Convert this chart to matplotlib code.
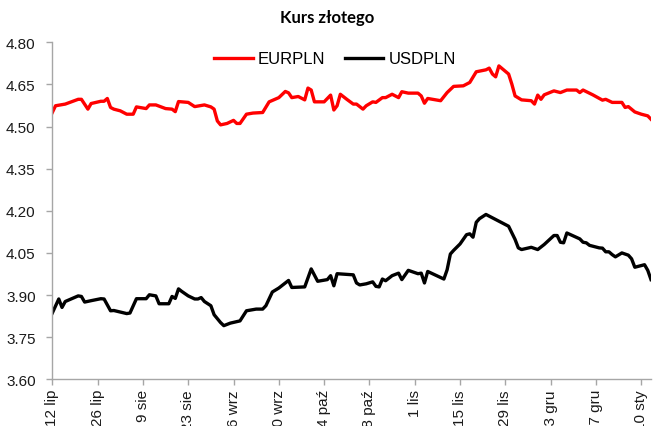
import pandas as pd
import matplotlib
matplotlib.use("Agg")
import matplotlib.pyplot as plt

# Dane
eur_daty = ["2021-07-12", "2021-07-13", "2021-07-16", "2021-07-20", "2021-07-21", "2021-07-23",
            "2021-07-24", "2021-07-27", "2021-07-28", "2021-07-29", "2021-07-30", "2021-07-31",
            "2021-08-02", "2021-08-04", "2021-08-06", "2021-08-07", "2021-08-10", "2021-08-11",
            "2021-08-13", "2021-08-16", "2021-08-18", "2021-08-19", "2021-08-20", "2021-08-23",
            "2021-08-25", "2021-08-28", "2021-08-30", "2021-08-31", "2021-09-01", "2021-09-02",
            "2021-09-04", "2021-09-06", "2021-09-07", "2021-09-08", "2021-09-10", "2021-09-12",
            "2021-09-15", "2021-09-17", "2021-09-20", "2021-09-22", "2021-09-23", "2021-09-24",
            "2021-09-26", "2021-09-28", "2021-09-29", "2021-09-30", "2021-10-01", "2021-10-04",
            "2021-10-06", "2021-10-07", "2021-10-08", "2021-10-09", "2021-10-11", "2021-10-13",
            "2021-10-14", "2021-10-16", "2021-10-17", "2021-10-19", "2021-10-20", "2021-10-22",
            "2021-10-23", "2021-10-25", "2021-10-27", "2021-10-28", "2021-10-30", "2021-11-02",
            "2021-11-03", "2021-11-04", "2021-11-05", "2021-11-09", "2021-11-11", "2021-11-13",
            "2021-11-16", "2021-11-18", "2021-11-20", "2021-11-23", "2021-11-24", "2021-11-25",
            "2021-11-26", "2021-11-27", "2021-11-30", "2021-12-01", "2021-12-02", "2021-12-04",
            "2021-12-07", "2021-12-08", "2021-12-09", "2021-12-10", "2021-12-11", "2021-12-14",
            "2021-12-16", "2021-12-18", "2021-12-21", "2021-12-22", "2021-12-23", "2021-12-26",
            "2021-12-29", "2021-12-30", "2022-01-01", "2022-01-04", "2022-01-05", "2022-01-06",
            "2022-01-08", "2022-01-10", "2022-01-12", "2022-01-13"]
eurpln = [4.550, 4.574, 4.580, 4.597, 4.597, 4.562,
          4.582, 4.590, 4.590, 4.600, 4.568, 4.562,
          4.556, 4.544, 4.544, 4.570, 4.564, 4.577,
          4.577, 4.564, 4.562, 4.553, 4.589, 4.586,
          4.571, 4.577, 4.570, 4.562, 4.520, 4.506,
          4.511, 4.522, 4.511, 4.511, 4.544, 4.548,
          4.550, 4.588, 4.603, 4.625, 4.620, 4.603,
          4.607, 4.595, 4.637, 4.630, 4.588, 4.588,
          4.612, 4.559, 4.574, 4.615, 4.597, 4.580,
          4.580, 4.562, 4.574, 4.588, 4.586, 4.603,
          4.603, 4.615, 4.603, 4.624, 4.619, 4.619,
          4.609, 4.583, 4.600, 4.592, 4.621, 4.643,
          4.645, 4.657, 4.695, 4.702, 4.708, 4.687,
          4.677, 4.716, 4.687, 4.651, 4.609, 4.595,
          4.592, 4.580, 4.612, 4.597, 4.613, 4.627,
          4.621, 4.630, 4.630, 4.621, 4.630, 4.613,
          4.594, 4.597, 4.586, 4.586, 4.568, 4.571,
          4.552, 4.544, 4.538, 4.526]

usd_daty = ["2021-07-12", "2021-07-14", "2021-07-15", "2021-07-16", "2021-07-18", "2021-07-20",
            "2021-07-21", "2021-07-22", "2021-07-24", "2021-07-27", "2021-07-28", "2021-07-30",
            "2021-07-31", "2021-08-04", "2021-08-05", "2021-08-07", "2021-08-10", "2021-08-11",
            "2021-08-13", "2021-08-14", "2021-08-17", "2021-08-18", "2021-08-19", "2021-08-20",
            "2021-08-21", "2021-08-23", "2021-08-25", "2021-08-26", "2021-08-27", "2021-08-28",
            "2021-08-30", "2021-08-31", "2021-09-02", "2021-09-03", "2021-09-05", "2021-09-08",
            "2021-09-10", "2021-09-13", "2021-09-15", "2021-09-16", "2021-09-18", "2021-09-20",
            "2021-09-23", "2021-09-24", "2021-09-28", "2021-09-30", "2021-10-02", "2021-10-05",
            "2021-10-06", "2021-10-07", "2021-10-08", "2021-10-13", "2021-10-14", "2021-10-15",
            "2021-10-17", "2021-10-19", "2021-10-20", "2021-10-21", "2021-10-22", "2021-10-23",
            "2021-10-25", "2021-10-27", "2021-10-28", "2021-10-30", "2021-11-02", "2021-11-03",
            "2021-11-04", "2021-11-05", "2021-11-10", "2021-11-11", "2021-11-12", "2021-11-13",
            "2021-11-15", "2021-11-17", "2021-11-18", "2021-11-19", "2021-11-20", "2021-11-21",
            "2021-11-23", "2021-11-30", "2021-12-02", "2021-12-03", "2021-12-04", "2021-12-07",
            "2021-12-09", "2021-12-11", "2021-12-14", "2021-12-15", "2021-12-16", "2021-12-17",
            "2021-12-18", "2021-12-22", "2021-12-23", "2021-12-24", "2021-12-25", "2021-12-28",
            "2021-12-29", "2021-12-30", "2021-12-31", "2022-01-01", "2022-01-02", "2022-01-04",
            "2022-01-06", "2022-01-07", "2022-01-08", "2022-01-11", "2022-01-12", "2022-01-13"]
usdpln = [3.836, 3.886, 3.856, 3.877, 3.887, 3.897,
          3.895, 3.875, 3.880, 3.887, 3.886, 3.844,
          3.845, 3.834, 3.836, 3.887, 3.887, 3.901,
          3.897, 3.869, 3.869, 3.895, 3.888, 3.922,
          3.913, 3.897, 3.886, 3.886, 3.891, 3.877,
          3.862, 3.830, 3.802, 3.791, 3.800, 3.808,
          3.844, 3.850, 3.850, 3.862, 3.911, 3.925,
          3.952, 3.927, 3.929, 3.993, 3.949, 3.955,
          3.969, 3.933, 3.976, 3.972, 3.943, 3.936,
          3.940, 3.947, 3.931, 3.929, 3.957, 3.951,
          3.969, 3.978, 3.955, 3.988, 3.976, 3.978,
          3.943, 3.984, 3.957, 3.990, 4.046, 4.059,
          4.082, 4.115, 4.118, 4.106, 4.159, 4.172,
          4.187, 4.145, 4.098, 4.068, 4.062, 4.070,
          4.062, 4.080, 4.112, 4.112, 4.088, 4.086,
          4.121, 4.100, 4.088, 4.086, 4.077, 4.068,
          4.067, 4.054, 4.054, 4.044, 4.036, 4.050,
          4.042, 4.029, 3.999, 4.008, 3.988, 3.955]

tick_daty = pd.date_range("2021-07-12", periods=14, freq="14D")
tick_etykiety = ["12 lip", "26 lip", "9 sie", "23 sie", "6 wrz", "20 wrz", "4 paź",
                 "18 paź", "1 lis", "15 lis", "29 lis", "13 gru", "27 gru", "10 sty"]
y_ticks = [3.60, 3.75, 3.90, 4.05, 4.20, 4.35, 4.50, 4.65, 4.80]

plt.rcParams["font.family"] = ["Liberation Sans", "DejaVu Sans"]

fig = plt.figure(figsize=(6.54, 4.27), dpi=100)
ax = fig.add_axes([52.3 / 654, 1 - 380.3 / 427, (651 - 52.3) / 654, (380.3 - 43.3) / 427])

ax.plot(pd.to_datetime(eur_daty), eurpln, color="#ff0000", lw=2.4, label="EURPLN")
ax.plot(pd.to_datetime(usd_daty), usdpln, color="#000000", lw=2.4, label="USDPLN")

ax.set_ylim(3.60, 4.80)
ax.set_yticks(y_ticks)
ax.set_yticklabels([f"{v:.2f}" for v in y_ticks])
ax.set_xlim(pd.Timestamp("2021-07-12"), pd.Timestamp("2022-01-13"))
ax.set_xticks(tick_daty)
ax.set_xticklabels(tick_etykiety, rotation=90)

for s in ["top", "right"]:
    ax.spines[s].set_visible(False)
for s in ["left", "bottom"]:
    ax.spines[s].set_color("#a6a6a6")
    ax.spines[s].set_linewidth(1.0)
ax.tick_params(axis="both", colors="#a6a6a6", labelcolor="#1a1a1a", labelsize=11,
               length=4, width=1.0, direction="out")
ax.tick_params(axis="y", pad=8)
ax.tick_params(axis="x", pad=3)

fig.legend(loc="center", bbox_to_anchor=(335 / 654, 1 - 60 / 427), ncol=2, frameon=False,
           fontsize=12, handlelength=2.3, handletextpad=0.3, columnspacing=1.2)

fig.text(0.5, 1 - 18 / 427, "Kurs złotego", ha="center", va="center",
         fontsize=12, fontweight="bold", family=["Lato", "DejaVu Sans"])

fig.savefig("out.png", dpi=100)
